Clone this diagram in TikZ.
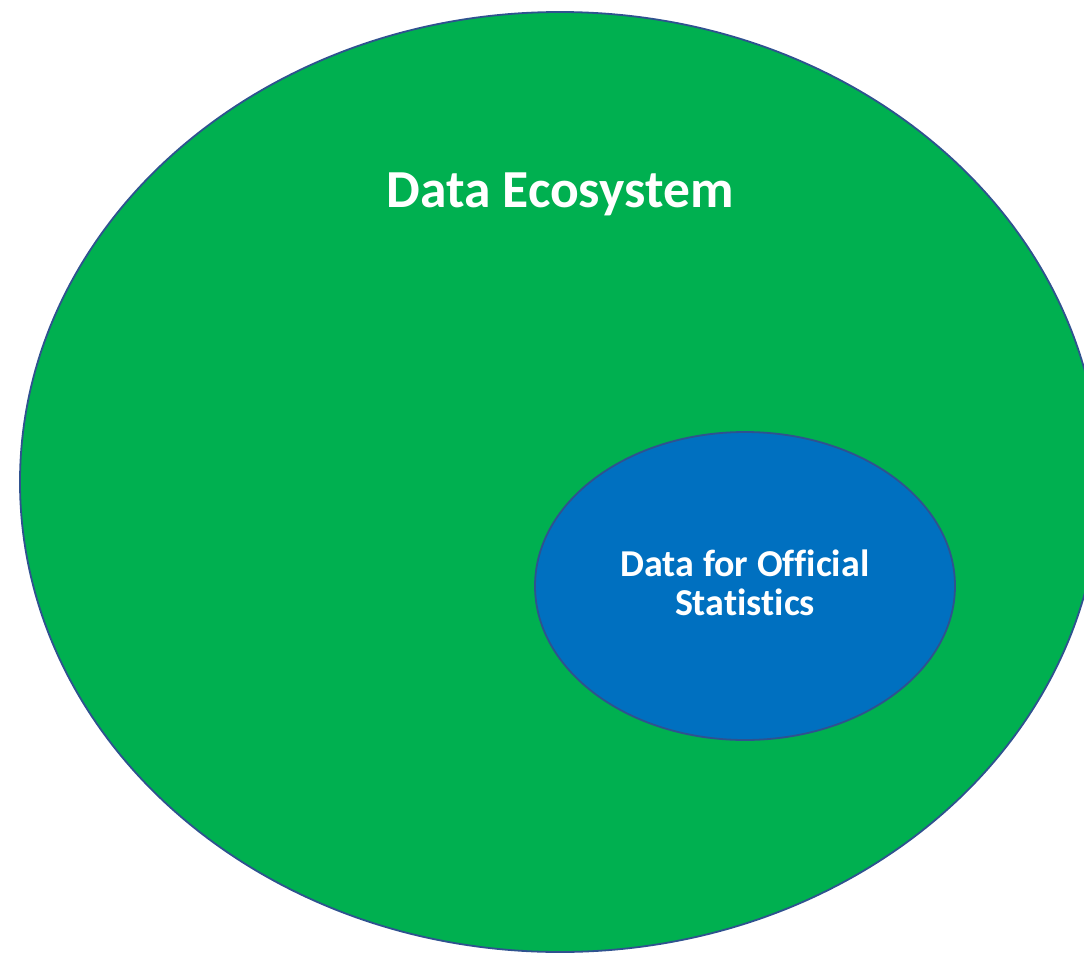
\documentclass[tikz,border=0pt]{standalone}
\usepackage{fontspec}
\setmainfont{Carlito}[Ligatures=NoCommon]
\usetikzlibrary{shapes.geometric}
\definecolor{ecogreen}{HTML}{00B050}
\definecolor{statblue}{HTML}{0070C0}
\definecolor{rim}{HTML}{2F528F}

\begin{document}
\begin{tikzpicture} [x=1pt,y=-1pt,
  blob/.style={ellipse, draw=rim, line width=1.8pt, inner sep=0},
  lbl/.style={text=white, font=\bfseries, align=center}]
\useasboundingbox (0,0) rectangle (1084,953);
\clip (0,0) rectangle (1084,953);
\node[blob, fill=ecogreen, minimum width=1080, minimum height=940] (eco) at (560,482) {};
\node[lbl, font=\bfseries\fontsize{53.5}{64}\selectfont, anchor=base] (ecotxt) at (560,207) {Data Ecosystem};
\node[blob, fill=statblue, minimum width=420, minimum height=308] (dos) at (745,586) {};
\node[lbl, font=\bfseries\fontsize{38}{39}\selectfont] (dostxt) at (745,583) {Data for Official\\Statistics};
\end{tikzpicture}
\end{document}
